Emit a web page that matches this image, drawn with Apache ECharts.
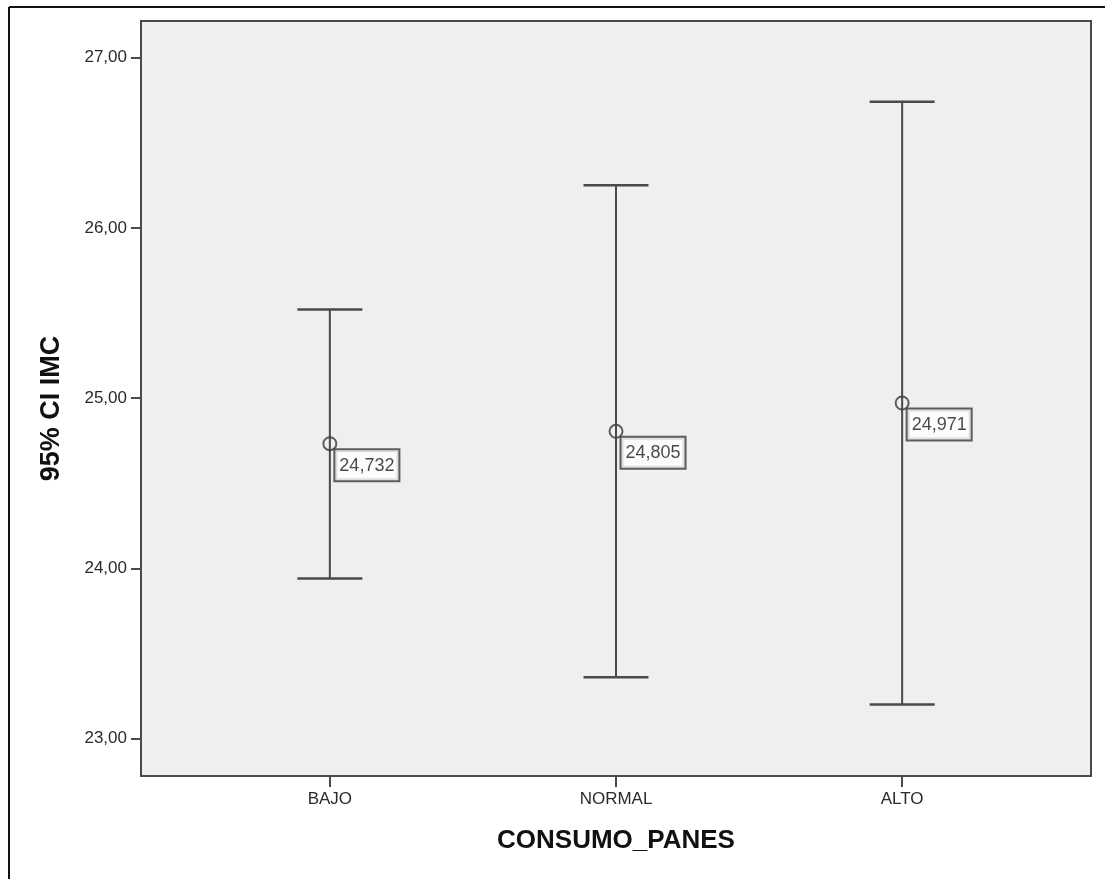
<!DOCTYPE html>
<html>
<head>
<meta charset="utf-8">
<script src="https://cdn.jsdelivr.net/npm/echarts@6/dist/echarts.min.js"></script>
<style>
html,body{margin:0;padding:0;background:#fff;}
#chart{width:1105px;height:879px;}
</style>
</head>
<body>
<div id="chart"></div>
<script>
// ---- data ----
var categories = ['BAJO', 'NORMAL', 'ALTO'];
var meanValues = [24.732, 24.805, 24.971];
var lowerCI = [23.94, 23.36, 23.20];
var upperCI = [25.52, 26.25, 26.74];
var yTickValues = [23, 24, 25, 26, 27];
var xTickValues = [1, 2, 3];

var FONT = '"Liberation Sans", Arial, sans-serif';
function comma(v, d) { return v.toFixed(d).replace('.', ','); }

var errorData = categories.map(function (c, i) { return [i + 1, lowerCI[i], upperCI[i]]; });
var meanData = categories.map(function (c, i) { return [i + 1, meanValues[i]]; });

var chart = echarts.init(document.getElementById('chart'), null, { renderer: 'canvas' });
chart.setOption({
  backgroundColor: '#ffffff',
  animation: false,
  grid: {
    show: true, left: 141, top: 21, right: 14, bottom: 103,
    backgroundColor: '#efefef', borderColor: '#4a4a4a', borderWidth: 2
  },
  xAxis: {
    type: 'value', min: 0.34, max: 3.66,
    name: 'CONSUMO_PANES', nameLocation: 'middle', nameGap: 52,
    nameTextStyle: { fontFamily: FONT, fontSize: 26, fontWeight: 'bold', color: '#111' },
    axisLine: { show: false },
    splitLine: { show: false },
    axisTick: { show: true, customValues: xTickValues, length: 11, lineStyle: { color: '#4a4a4a', width: 2 } },
    axisLabel: {
      customValues: xTickValues, margin: 15, fontFamily: FONT, fontSize: 17, color: '#2a2a2a',
      formatter: function (v) { return categories[Math.round(v) - 1] || ''; }
    }
  },
  yAxis: {
    type: 'value', min: 22.78, max: 27.215,
    name: '95% CI IMC', nameLocation: 'middle', nameGap: 76, nameRotate: 90,
    nameTextStyle: { fontFamily: FONT, fontSize: 27, fontWeight: 'bold', color: '#111', padding: [0, 20, 0, 0] },
    axisLine: { show: false },
    splitLine: { show: false },
    axisTick: { show: true, customValues: yTickValues, length: 10, lineStyle: { color: '#4a4a4a', width: 2 } },
    axisLabel: {
      customValues: yTickValues, margin: 14, fontFamily: FONT, fontSize: 17, color: '#2a2a2a',
      formatter: function (v) { return comma(v, 2); }
    }
  },
  series: [
    {
      type: 'custom',
      data: errorData,
      encode: { x: 0, y: [1, 2] },
      renderItem: function (params, api) {
        var x = api.value(0);
        var lo = api.coord([x, api.value(1)]);
        var hi = api.coord([x, api.value(2)]);
        var hw = 32.5;
        var st = { stroke: '#4a4a4a', lineWidth: 2 };
        return {
          type: 'group',
          children: [
            { type: 'line', shape: { x1: lo[0], y1: lo[1], x2: hi[0], y2: hi[1] }, style: st },
            { type: 'line', shape: { x1: hi[0] - hw, y1: hi[1], x2: hi[0] + hw, y2: hi[1] }, style: { stroke: '#4a4a4a', lineWidth: 2.5 } },
            { type: 'line', shape: { x1: lo[0] - hw, y1: lo[1], x2: lo[0] + hw, y2: lo[1] }, style: { stroke: '#4a4a4a', lineWidth: 2.5 } }
          ]
        };
      },
      z: 2
    },
    {
      type: 'scatter',
      data: meanData,
      symbol: 'circle',
      symbolSize: 13,
      itemStyle: { color: 'rgba(0,0,0,0)', borderColor: '#383838', borderWidth: 2 },
      label: {
        show: true,
        position: [13, 14],
        formatter: function (p) { return comma(p.value[1], 3); },
        fontFamily: FONT, fontSize: 18, color: '#1a1a1a',
        backgroundColor: '#ffffff', borderColor: '#383838', borderWidth: 2,
        padding: [5, 4, 4, 4], lineHeight: 21
      },
      z: 3
    }
  ],
  graphic: [
    { type: 'line', shape: { x1: 9, y1: 7, x2: 9, y2: 879 }, style: { stroke: '#111', lineWidth: 2 }, z: 10 },
    { type: 'line', shape: { x1: 9, y1: 7, x2: 1105, y2: 7 }, style: { stroke: '#111', lineWidth: 2 }, z: 10 }
  ]
});
</script>
</body>
</html>
